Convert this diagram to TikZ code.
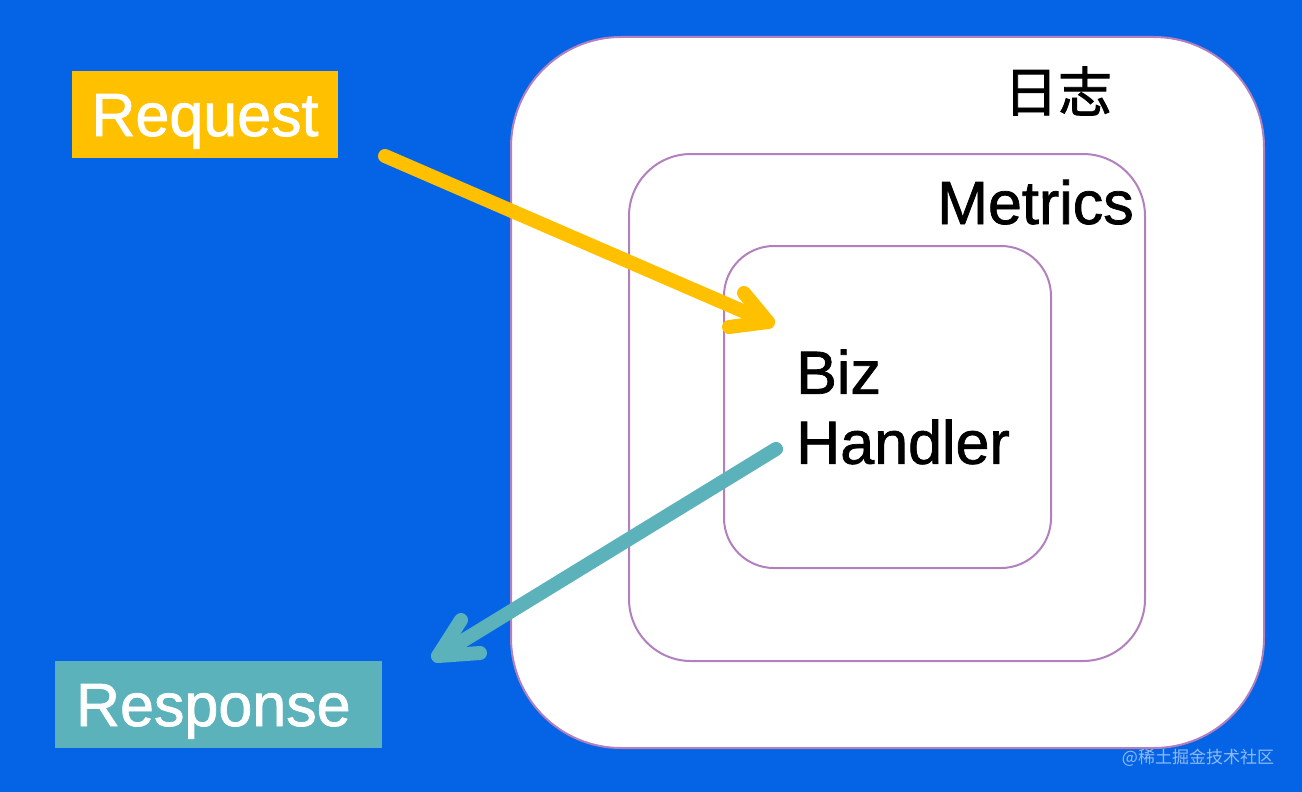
\documentclass[tikz,border=0pt]{standalone}
\usepackage{fontspec}
\setmainfont{Liberation Sans}[FakeBold=1.2]
\newfontfamily\cjk{Noto Sans CJK SC}
\newfontfamily\cjkb{Noto Sans CJK SC}[FakeBold=1.5]
\usetikzlibrary{calc}
\definecolor{bg}{RGB}{5,100,230}
\definecolor{ringc}{RGB}{178,128,190}
\definecolor{reqc}{RGB}{255,192,0}
\definecolor{resc}{RGB}{91,178,187}
\tikzset{
  ring/.style={draw=ringc, line width=2pt, fill=white, inner sep=0pt},
  bigtext/.style={font=\fontsize{61}{70}\selectfont, inner sep=0pt},
  tagbox/.style={bigtext, text=white, minimum height=87pt, text height=43pt, text depth=0pt},
  yarrow/.style={draw=reqc, line width=14pt, line cap=round, line join=round},
  tarrow/.style={draw=resc, line width=14pt, line cap=round, line join=round}
}
\begin{document}
\begin{tikzpicture}[x=1pt,y=-1pt]
\fill[bg] (0,0) rectangle (1302,792);
\useasboundingbox (0,0) rectangle (1302,792);

\node[ring, rounded corners=110pt, minimum width=753pt, minimum height=711pt] (outer) at (887.5,392.5) {};
\node[ring, rounded corners=62pt, minimum width=516pt, minimum height=507pt] (middle) at (887,407.5) {};
\node[ring, rounded corners=50pt, minimum width=327pt, minimum height=322pt] (inner) at (887.5,407) {};

\node[font=\cjkb\fontsize{54}{60}\selectfont, inner sep=0pt] (log) at (1058,91) {日志};
\node[bigtext, anchor=base west] (metrics) at (937,224) {Metrics};
\node[bigtext, align=left, anchor=west] (biz) at (796,407) {Biz\\Handler};

\node[tagbox, fill=reqc, minimum width=266pt] (req) at (205,114.5) {Request};
\node[tagbox, fill=resc, text width=285pt, align=left, inner xsep=21pt] (res) at (218.5,704.5) {Response};

\node[font=\cjk\fontsize{17}{20}\selectfont, text=white!55!bg, inner sep=0pt] (credit) at (1198,758) {@稀土掘金技术社区};

\coordinate (reqTail) at (385,156);
\coordinate (reqTip) at (768,322);
\coordinate (reqB1) at (744,293);
\coordinate (reqB2) at (729,327);
\draw[yarrow] (reqTail) -- (reqTip);
\draw[yarrow] (reqB1) -- (reqTip) -- (reqB2);

\coordinate (resTail) at (776,449);
\coordinate (resTip) at (438,656);
\coordinate (resB1) at (461,620);
\coordinate (resB2) at (480,653);
\draw[tarrow] (resTail) -- (resTip);
\draw[tarrow] (resB1) -- (resTip) -- (resB2);
\end{tikzpicture}
\end{document}
